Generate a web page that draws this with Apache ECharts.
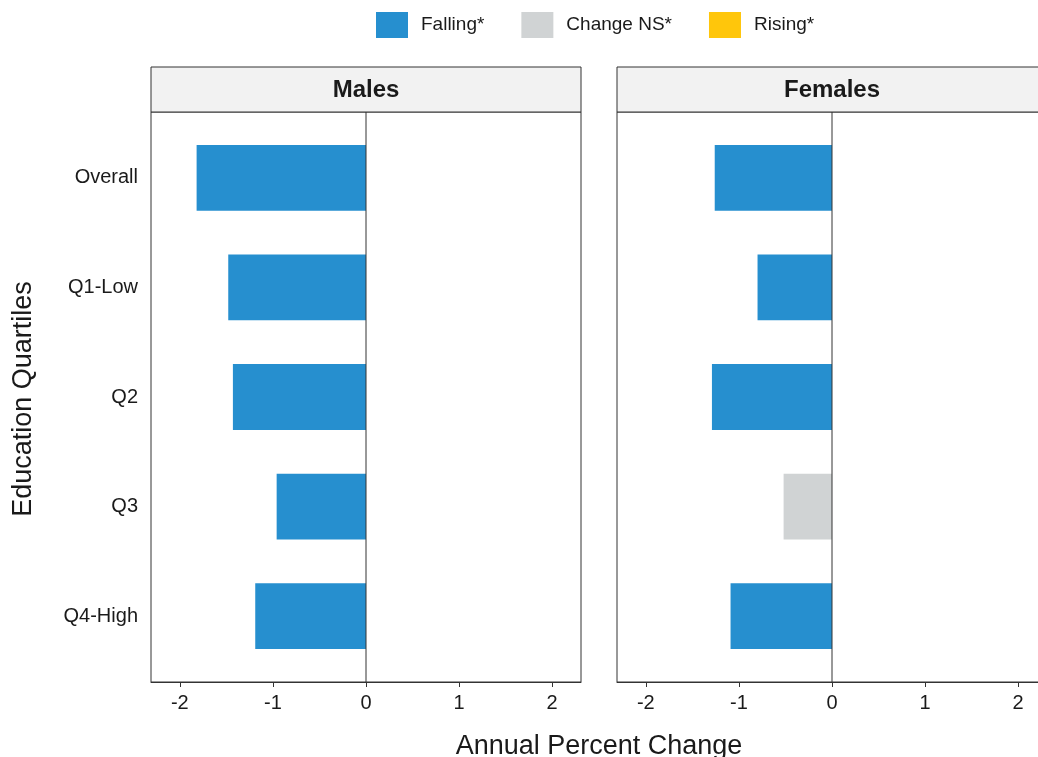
<!DOCTYPE html>
<html>
<head>
<meta charset="utf-8">
<title>Annual Percent Change by Education Quartile</title>
<script src="https://cdn.jsdelivr.net/npm/echarts@6/dist/echarts.min.js"></script>
<style>
  html, body { margin: 0; padding: 0; background: #ffffff; overflow: hidden; }
  #chart { width: 1038px; height: 757px; }
</style>
</head>
<body>
<div id="chart"></div>
<script>
// Education quartile categories (top to bottom)
const categories = ['Overall', 'Q1-Low', 'Q2', 'Q3', 'Q4-High'];

// Annual percent change per quartile
const maleApc = [-1.82, -1.48, -1.43, -0.96, -1.19];
const femaleApc = [-1.26, -0.80, -1.29, -0.52, -1.09];

// Trend classification per quartile
const maleTrend = ['Falling*', 'Falling*', 'Falling*', 'Falling*', 'Falling*'];
const femaleTrend = ['Falling*', 'Falling*', 'Falling*', 'Change NS*', 'Falling*'];

// Legend entries and x-axis tick values
const trendNames = ['Falling*', 'Change NS*', 'Rising*'];
const xTicks = [-2, -1, 0, 1, 2];

const trendColors = { 'Falling*': '#268fcf', 'Change NS*': '#d0d3d4', 'Rising*': '#ffc60b' };
const panels = [
  { title: 'Males', values: maleApc, trend: maleTrend, left: 151 },
  { title: 'Females', values: femaleApc, trend: femaleTrend, left: 617 }
];

const FONT = '"Liberation Sans", Arial, sans-serif';
const INK = '#1a1a1a';
const FRAME = '#333333';
const PANEL_W = 430;
const X_MIN = -2.31, X_MAX = 2.31;

const grids = [], xAxes = [], yAxes = [], series = [], graphics = [];

panels.forEach((p, k) => {
  const frameIdx = grids.length;
  // Frame grid: panel border, x axis, zero reference line
  grids.push({ left: p.left, top: 112, width: PANEL_W, height: 570, show: true,
    borderColor: FRAME, borderWidth: 1, backgroundColor: 'transparent',
    containLabel: false, outerBoundsMode: 'none' });
  xAxes.push({ type: 'value', gridIndex: frameIdx, min: X_MIN, max: X_MAX,
    axisLine: { show: true, lineStyle: { color: FRAME, width: 1 } },
    axisTick: { show: true, length: 5, lineStyle: { color: FRAME }, customValues: xTicks },
    axisLabel: { show: true, customValues: xTicks, fontFamily: FONT, fontSize: 20, color: INK, margin: 11,
      formatter: v => String(v) },
    splitLine: { show: false } });
  yAxes.push({ type: 'value', gridIndex: frameIdx, min: 0, max: 1, show: false });
  series.push({ type: 'line', xAxisIndex: frameIdx, yAxisIndex: frameIdx, silent: true,
    symbol: 'none', data: [[0, 0], [0, 1]], lineStyle: { color: FRAME, width: 1 }, z: 5 });

  // Bar grid: category bands placed inside the panel
  const barIdx = grids.length;
  grids.push({ left: p.left, top: 123, width: PANEL_W, height: 548,
    containLabel: false, outerBoundsMode: 'none' });
  xAxes.push({ type: 'value', gridIndex: barIdx, min: X_MIN, max: X_MAX, show: false });
  yAxes.push({ type: 'category', gridIndex: barIdx, data: categories, inverse: true,
    axisLine: { show: false },
    axisTick: { show: k === 0, length: 5, alignWithLabel: true, lineStyle: { color: FRAME } },
    axisLabel: { show: k === 0, fontFamily: FONT, fontSize: 20, color: INK, margin: 13 },
    splitLine: { show: false } });
  trendNames.forEach(name => {
    series.push({ type: 'bar', name: name, xAxisIndex: barIdx, yAxisIndex: barIdx,
      stack: 'panel' + k, barWidth: '60%',
      itemStyle: { color: trendColors[name] },
      data: p.values.map((v, i) => (p.trend[i] === name ? v : null)), z: 3 });
  });

  // Facet strip
  graphics.push({ type: 'rect', shape: { x: p.left, y: 67, width: PANEL_W, height: 45 },
    style: { fill: '#f2f2f2', stroke: FRAME, lineWidth: 1 }, z: 10 });
  graphics.push({ type: 'text', x: p.left + PANEL_W / 2, y: 90,
    style: { text: p.title, fill: INK, font: 'bold 24px ' + FONT, align: 'center', verticalAlign: 'middle' }, z: 11 });
});

// Axis titles
graphics.push({ type: 'text', x: 24, y: 399, rotation: Math.PI / 2,
  style: { text: 'Education Quartiles', fill: INK, font: '27px ' + FONT, align: 'center', verticalAlign: 'middle' } });
graphics.push({ type: 'text', x: 599, y: 747,
  style: { text: 'Annual Percent Change', fill: INK, font: '27px ' + FONT, align: 'center', verticalAlign: 'middle' } });

const chart = echarts.init(document.getElementById('chart'), null, { renderer: 'canvas' });
chart.setOption({
  animation: false,
  backgroundColor: '#ffffff',
  legend: {
    data: trendNames, top: 12, left: 376, padding: 0, itemWidth: 32, itemHeight: 26, itemGap: 37,
    icon: 'rect', selectedMode: false,
    textStyle: { fontFamily: FONT, fontSize: 19, color: INK, padding: [0, 0, 0, 8] }
  },
  grid: grids,
  xAxis: xAxes,
  yAxis: yAxes,
  series: series,
  graphic: graphics
});
</script>
</body>
</html>
